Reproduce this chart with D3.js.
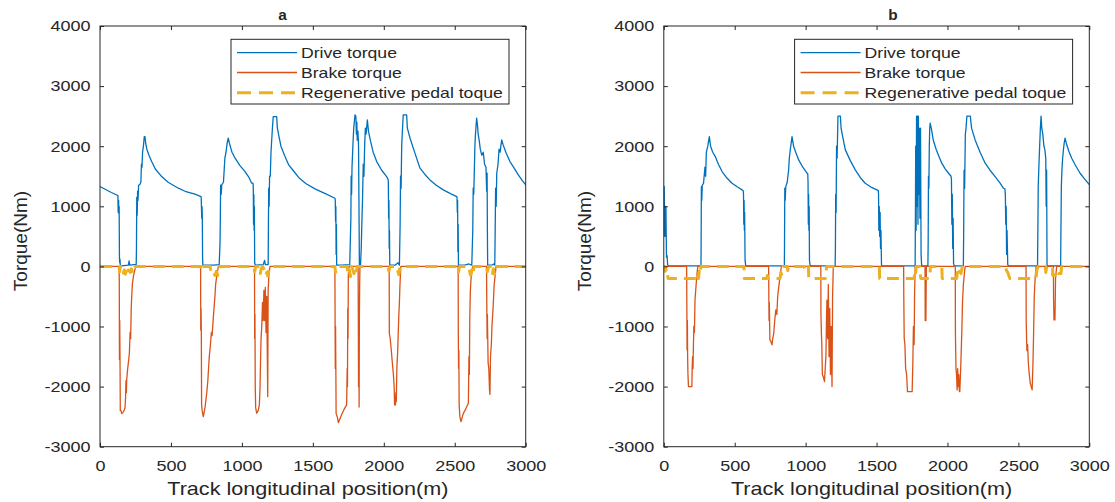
<!DOCTYPE html>
<html><head><meta charset="utf-8">
<script src="https://cdn.jsdelivr.net/npm/d3@7"></script>
<style>
body{margin:0;background:#fff}
svg{display:block}
text{font-family:"Liberation Sans",Arial,Helvetica,sans-serif;fill:#262626}
</style>
</head><body>
<svg id="c" width="1115" height="502"></svg>
<script>
// ---------- data ----------
const xTicks = [0, 500, 1000, 1500, 2000, 2500, 3000];
const yTicks = [-3000, -2000, -1000, 0, 1000, 2000, 3000, 4000];
const seriesNames = ["Drive torque", "Brake torque", "Regenerative pedal toque"];
const panelTitles = ["a", "b"];
const xLabel = "Track longitudinal position(m)";
const yLabel = "Torque(Nm)";

const driveA = [[0,1330],[40,1280],[80,1230],[125,1180],[126,1180],[128,900],[131,1100],[133,880],[135,1000],[137,140],[139,60],[141,120],[143,20],[150,10],[200,20],[205,90],[210,20],[240,30],[255,30],
[257,300],[259,1150],[262,850],[265,1250],[268,1100],[272,1350],[280,1360],[288,1400],[292,1700],[296,1650],[300,1900],[306,2000],[312,2160],[317,2160],[322,2050],[330,1950],[345,1850],[364,1744],[390,1620],[435,1494],[480,1400],[552,1301],[600,1250],[669,1201],[712,1160],
[713,1160],[715,980],[717,800],[719,1000],[721,820],[723,150],[725,10],[735,20],[800,20],[840,30],
[846,400],[848,800],[850,1350],[854,1200],[858,1356],[870,1400],[880,1800],[888,1900],[896,2050],[904,2133],[912,2050],[930,1900],[952,1800],[985,1680],[1022,1578],[1050,1480],[1069,1384],[1078,1384],
[1080,1340],[1082,700],[1084,1200],[1086,600],[1088,1000],[1090,60],[1095,20],[1150,30],[1160,100],[1165,30],[1185,30],
[1187,700],[1189,1300],[1192,1000],[1195,1500],[1200,1500],[1205,1900],[1210,2100],[1215,2300],[1221,2493],[1245,2493],[1250,2300],[1258,2200],[1275,2000],[1300,1850],[1330,1689],[1360,1600],[1400,1480],[1450,1380],[1515,1290],[1580,1220],[1656,1134],
[1658,1100],[1660,750],[1662,1000],[1664,200],[1666,700],[1668,20],[1700,20],[1760,30],
[1768,800],[1770,1500],[1773,1200],[1776,1650],[1782,2000],[1788,2300],[1797,2520],[1803,2500],[1807,2200],[1810,2400],[1813,2100],[1818,2250],[1822,2000],[1826,700],[1828,20],[1836,30],
[1841,300],[1845,700],[1850,1100],[1855,1700],[1860,1500],[1865,2000],[1870,2300],[1875,2200],[1884,2437],[1892,2250],[1905,2100],[1925,1900],[1950,1744],[1985,1600],[2020,1494],[2030,1450],
[2032,1400],[2034,800],[2036,1100],[2038,300],[2040,600],[2042,20],[2080,20],[2100,60],[2110,20],
[2115,700],[2118,1500],[2122,1300],[2126,2000],[2132,2300],[2137,2520],[2161,2520],[2166,2300],[2185,2133],[2220,1880],[2255,1634],[2290,1530],[2325,1439],[2370,1350],[2419,1273],[2470,1210],[2514,1161],
[2516,1150],[2518,900],[2520,1100],[2522,250],[2524,700],[2526,20],[2570,20],[2600,40],[2620,20],
[2627,600],[2630,1300],[2634,1200],[2638,1600],[2642,2000],[2646,2200],[2654,2466],[2660,2350],[2665,2200],[2672,2100],[2680,1950],[2690,1850],[2701,1900],[2710,1700],[2720,1650],[2725,1250],[2728,1550],[2730,600],[2732,20],[2760,20],[2775,40],[2782,20],
[2785,600],[2788,1300],[2792,1000],[2796,1550],[2805,1700],[2812,1950],[2820,1900],[2825,2000],[2831,2105],[2840,2030],[2860,1900],[2889,1744],[2920,1630],[2948,1522],[2975,1430],[3000,1356]];

const brakeA = [[0,0],[135,0],[136,-300],[137,-1550],[139,-900],[141,-1550],[143,-2400],[148,-2400],[153,-2450],[165,-2420],[176,-2360],[180,-2200],[183,-1900],[186,-2100],[188,-1890],[195,-1700],[200,-1600],[207,-1450],[212,-1100],[216,-1200],[220,-700],[223,-530],[228,-300],[235,-170],[245,-60],[254,0],
[709,0],[710,-1060],[712,-700],[714,-1060],[716,-2300],[720,-2400],[728,-2500],[740,-2350],[752,-2110],[760,-1900],[765,-1700],[770,-1500],[775,-1390],[785,-1100],[790,-1150],[799,-835],[805,-650],[810,-500],[815,-300],[822,-170],[834,0],
[1089,0],[1090,-1200],[1092,-800],[1094,-2000],[1097,-2350],[1104,-2443],[1115,-2400],[1123,-2300],[1128,-2000],[1131,-1610],[1135,-1200],[1140,-1000],[1145,-600],[1150,-900],[1155,-400],[1160,-900],[1165,-350],[1170,-1100],[1175,-500],[1182,-2166],[1185,-400],[1190,-150],[1198,0],
[1655,0],[1656,-400],[1658,-1700],[1660,-1000],[1662,-1700],[1664,-2450],[1672,-2500],[1680,-2600],[1700,-2480],[1720,-2380],[1738,-2305],[1742,-1700],[1744,-2000],[1746,-700],[1748,-1200],[1750,-150],[1755,0],
[1819,0],[1820,-600],[1822,-2000],[1824,-1000],[1826,-2340],[1828,-800],[1830,-300],[1832,0],
[2038,0],[2039,-1111],[2045,-1200],[2053,-1400],[2060,-1600],[2067,-1777],[2073,-2000],[2076,-2305],[2079,-2200],[2082,-2305],[2085,-2100],[2088,-2250],[2092,-1700],[2098,-1400],[2102,-1100],[2106,-800],[2110,-600],[2114,-300],[2120,0],
[2524,0],[2525,-1100],[2527,-1700],[2529,-1400],[2531,-2300],[2536,-2500],[2544,-2582],[2560,-2450],[2575,-2380],[2596,-2277],[2600,-1500],[2603,-1800],[2606,-855],[2610,-400],[2615,-200],[2626,0],
[2724,0],[2725,-400],[2728,-1200],[2730,-800],[2735,-1600],[2740,-1700],[2745,-2055],[2748,-2130],[2752,-1500],[2758,-1300],[2762,-1000],[2770,-700],[2778,-300],[2785,-150],[2791,0],[3000,0]];

const regenA = [[0,0],[135,0],[138,-90],[142,-20],[148,0],[160,0],[165,-110],[170,-60],[178,-130],[185,-80],[192,-140],[200,-60],[215,-100],[222,-40],[230,-120],[240,-30],[250,0],
[710,0],[715,-80],[722,-20],[730,0],[775,0],[780,-60],[790,-130],[800,-100],[810,-150],[820,-80],[830,-150],[838,-40],[845,0],
[1085,0],[1090,-90],[1096,-20],[1100,0],[1125,0],[1130,-120],[1136,-40],[1145,0],[1160,-60],[1168,-150],[1175,-100],[1182,-160],[1190,-60],[1198,0],
[1655,0],[1660,-100],[1666,-30],[1672,0],[1740,0],[1745,-80],[1752,-150],[1758,-60],[1765,-170],[1772,0],[1780,-40],[1790,-120],[1798,-60],[1805,-130],[1812,0],
[2030,0],[2036,-80],[2042,-20],[2050,0],[2095,0],[2100,-90],[2106,-140],[2112,-40],[2118,0],
[2520,0],[2526,-100],[2532,-20],[2540,0],[2600,0],[2606,-100],[2612,-150],[2620,-60],[2628,-130],[2636,0],
[2725,0],[2730,-90],[2736,-20],[2742,0],[2760,0],[2766,-120],[2772,-40],[2780,-130],[2788,0],[3000,0]];

const driveB = [[0,1330],[1,500],[3,1330],[5,700],[7,1000],[9,500],[11,1000],[13,500],[15,1000],[17,550],[19,150],[23,180],[27,30],[31,10],[262,10],
[263,300],[265,1328],[268,1100],[271,1350],[280,1380],[290,1650],[295,1500],[300,1900],[310,2000],[321,2160],[330,2000],[345,1900],[363,1827],[385,1700],[411,1578],[445,1470],[481,1384],[520,1320],[552,1273],[560,1260],
[562,1200],[564,700],[566,1100],[568,600],[570,900],[573,100],[577,20],[580,10],[850,10],
[851,300],[853,1300],[856,1100],[860,1328],[870,1400],[880,1600],[885,1800],[892,1950],[898,2050],[904,2160],[915,2000],[930,1900],[951,1772],[980,1650],[1010,1550],[1015,1540],
[1017,1400],[1019,700],[1021,1200],[1023,600],[1025,1000],[1027,100],[1032,10],[1208,10],
[1210,300],[1212,1200],[1215,900],[1218,2000],[1222,1800],[1228,2500],[1245,2500],[1250,2300],[1262,2150],[1280,1939],[1315,1760],[1350,1606],[1385,1480],[1420,1384],[1460,1320],[1503,1273],[1512,1260],
[1514,1200],[1516,600],[1519,1000],[1522,500],[1525,900],[1528,300],[1531,600],[1535,20],[1540,10],[1772,10],
[1774,800],[1776,2000],[1779,600],[1782,2500],[1786,1000],[1789,2500],[1792,700],[1795,2500],[1798,1200],[1801,2300],[1806,800],[1810,2300],[1814,200],[1818,10],[1862,10],
[1864,400],[1866,1500],[1869,1300],[1872,2000],[1875,2300],[1878,2382],[1886,2300],[1900,2100],[1920,1950],[1940,1830],[1960,1717],[1985,1620],[2008,1550],[2025,1500],
[2028,1450],[2031,700],[2034,1200],[2037,300],[2040,800],[2043,50],[2047,10],[2112,10],
[2114,500],[2117,1600],[2121,1300],[2126,2200],[2131,2300],[2137,2500],[2161,2500],[2170,2300],[2195,2105],[2230,1900],[2266,1717],[2300,1600],[2336,1494],[2370,1390],[2395,1300],[2405,1290],
[2408,1200],[2411,700],[2414,1000],[2417,200],[2420,600],[2425,30],[2430,10],[2635,10],
[2637,500],[2640,1328],[2645,1700],[2650,2000],[2655,2300],[2660,2500],[2665,2300],[2672,2200],[2680,2000],[2687,1939],[2693,1800],[2696,1000],[2699,1600],[2702,20],[2706,10],[2798,10],
[2800,600],[2803,1328],[2807,1600],[2812,1800],[2818,1950],[2823,2050],[2829,2133],[2838,2050],[2855,1920],[2876,1800],[2905,1670],[2935,1550],[2965,1460],[3000,1360]];

const brakeB = [[0,0],[161,0],[162,-400],[164,-1390],[166,-900],[168,-1500],[170,-1777],[174,-2000],[198,-2000],[200,-1700],[203,-1500],[206,-1700],[209,-1300],[212,-1000],[216,-1100],[220,-560],[228,-300],[235,-100],[240,0],
[739,0],[740,-300],[742,-900],[744,-600],[748,-1223],[755,-1250],[763,-1306],[768,-1200],[775,-1120],[782,-900],[790,-723],[797,-800],[803,-500],[810,-350],[818,-200],[829,0],
[1107,0],[1108,-800],[1111,-1100],[1114,-1300],[1118,-1800],[1126,-1850],[1133,-1916],[1138,-1700],[1143,-1500],[1147,-900],[1150,-560],[1155,-1200],[1160,-300],[1165,-1500],[1170,-700],[1175,-1800],[1180,-1000],[1186,-2000],[1190,-500],[1195,0],
[1691,0],[1692,-500],[1695,-1200],[1700,-1300],[1705,-1700],[1712,-1800],[1718,-2083],[1751,-2083],[1756,-1600],[1760,-1000],[1765,-1300],[1768,-500],[1772,0],
[1842,0],[1843,-900],[1846,-400],[1848,-900],[1851,0],
[2055,0],[2056,-1100],[2060,-1700],[2064,-1800],[2068,-2055],[2072,-1700],[2076,-2000],[2080,-1800],[2084,-2083],[2087,-2083],[2091,-1850],[2096,-1500],[2101,-1100],[2106,-600],[2112,-300],[2120,-100],[2125,0],
[2554,0],[2555,-900],[2560,-1400],[2565,-1300],[2570,-1600],[2577,-1800],[2584,-1950],[2597,-2055],[2603,-1600],[2607,-1150],[2612,-500],[2618,-200],[2625,0],
[2747,0],[2748,-500],[2751,-890],[2755,-700],[2758,-890],[2762,-200],[2770,0],[3000,0]];

const regenB = [[0,0],[2,-20],[5,0],[10,-80],[15,-40],[20,-120],[25,-100],[30,-200],[230,-200],[234,-120],[240,-200],[245,-200],[250,-80],[256,-130],[262,0],
[565,0],[567,-200],[725,-200],[730,-150],[738,-200],[820,-200],[825,-100],[832,-130],[840,0],
[870,0],[874,-70],[880,0],[990,0],[994,-60],[1000,0],[1020,0],[1022,-200],[1140,-200],[1144,-100],[1148,0],
[1520,0],[1522,-200],[1765,-200],[1770,-100],[1775,-150],[1780,0],[1805,0],[1808,-120],[1812,-200],[1875,-200],[1880,0],
[1960,0],[1963,-200],[2065,-200],[2070,-100],[2075,-160],[2085,-80],[2095,-120],[2105,0],
[2410,0],[2415,-60],[2425,-100],[2440,-200],[2625,-200],[2630,-60],[2640,0],
[2690,0],[2693,-100],[2700,0],[2740,0],[2742,-150],[2760,-150],[2765,-60],[2780,-120],[2800,-120],[2805,0],[3000,0]];

// ---------- drawing ----------
const colors = ["#0072BD", "#D95319", "#EDB120"];
const svg = d3.select("#c");
const panels = [
  {left:100, right:525.7, title:panelTitles[0], titleX:282.5, ylabX:22, series:[driveA, brakeA, regenA]},
  {left:663.8, right:1089.3, title:panelTitles[1], titleX:893, ylabX:586, series:[driveB, brakeB, regenB]}
];
const plotTop = 26, plotBottom = 446.7;
const SX = 1.2;
const fmt = d => String(d);

function txt(g, x, y, s, size, anchor, opts={}) {
  const sx = opts.sx || SX;
  const t = g.append("text")
    .attr("transform", `translate(${x},${y}) scale(${sx},1)`)
    .attr("text-anchor", anchor)
    .attr("font-size", size)
    .text(s);
  if (opts.bold) t.attr("font-weight", "bold");
  return t;
}

panels.forEach((p, i) => {
  const g = svg.append("g");
  const x = d3.scaleLinear().domain([0, 3000]).range([p.left, p.right]);
  const y = d3.scaleLinear().domain([-3000, 4000]).range([plotBottom, plotTop]);

  const clipId = "clip" + i;
  svg.append("clipPath").attr("id", clipId).append("rect")
    .attr("x", p.left).attr("y", plotTop).attr("width", p.right - p.left).attr("height", plotBottom - plotTop);

  const line = d3.line().x(d => x(d[0])).y(d => y(d[1]));
  const plot = g.append("g").attr("clip-path", `url(#${clipId})`);
  p.series.forEach((s, k) => {
    const path = plot.append("path").datum(s).attr("d", line)
      .attr("fill", "none").attr("stroke", colors[k])
      .attr("stroke-linejoin", "round");
    if (k === 2) path.attr("stroke-width", 3).attr("stroke-dasharray", "12,7");
    else path.attr("stroke-width", 1.3);
  });

  const ax = (gen, tr) => g.append("g").attr("transform", tr).call(gen)
    .call(a => a.select(".domain").remove());
  const xb = ax(d3.axisBottom(x).tickValues(xTicks).tickFormat(fmt).tickSize(-4).tickSizeOuter(0).tickPadding(14), `translate(0,${plotBottom})`);
  const xt = ax(d3.axisTop(x).tickValues(xTicks).tickSize(-4).tickSizeOuter(0).tickFormat(""), `translate(0,${plotTop})`);
  const yl = ax(d3.axisLeft(y).tickValues(yTicks).tickFormat(fmt).tickSize(-4).tickSizeOuter(0).tickPadding(8), `translate(${p.left},0)`);
  const yr = ax(d3.axisRight(y).tickValues(yTicks).tickSize(-4).tickSizeOuter(0).tickFormat(""), `translate(${p.right},0)`);
  [xb, xt, yl, yr].forEach(a => a.selectAll("line").attr("stroke", "#262626"));
  [xb, yl].forEach(a => a.selectAll("text").attr("font-size", 15).attr("fill", "#262626")
    .attr("font-family", '"Liberation Sans",Arial,sans-serif')
    .attr("transform", `scale(${SX},1)`));

  g.append("rect").attr("x", p.left).attr("y", plotTop)
    .attr("width", p.right - p.left).attr("height", plotBottom - plotTop)
    .attr("fill", "none").attr("stroke", "#262626").attr("stroke-width", 1);

  txt(g, p.titleX, 20, p.title, 14, "middle", {bold:true, sx:1.1});
  txt(g, (p.left + p.right) / 2 - 5, 495, xLabel, 18, "middle");
  g.append("text")
    .attr("transform", `translate(${p.ylabX + 5},241) rotate(-90)`)
    .attr("text-anchor", "middle").attr("font-size", 19).text(yLabel);

  const lw = 278, lh = 64.7;
  const lx = p.right - 16.7 - lw, ly = 39.3;
  const lg = g.append("g");
  lg.append("rect").attr("x", lx).attr("y", ly).attr("width", lw).attr("height", lh)
    .attr("fill", "#fff").attr("stroke", "#262626").attr("stroke-width", 1);
  const rows = [52.7, 72.5, 92.7];
  seriesNames.forEach((nm, k) => {
    const l = lg.append("line").attr("x1", lx + 6).attr("x2", lx + 66)
      .attr("y1", rows[k]).attr("y2", rows[k]).attr("stroke", colors[k]);
    if (k === 2) l.attr("stroke-width", 3).attr("stroke-dasharray", "14,8");
    else l.attr("stroke-width", 1.3);
    txt(lg, lx + 70, rows[k] + 5, nm, 14, "start", {sx:1.26});
  });
});
</script>
</body></html>
